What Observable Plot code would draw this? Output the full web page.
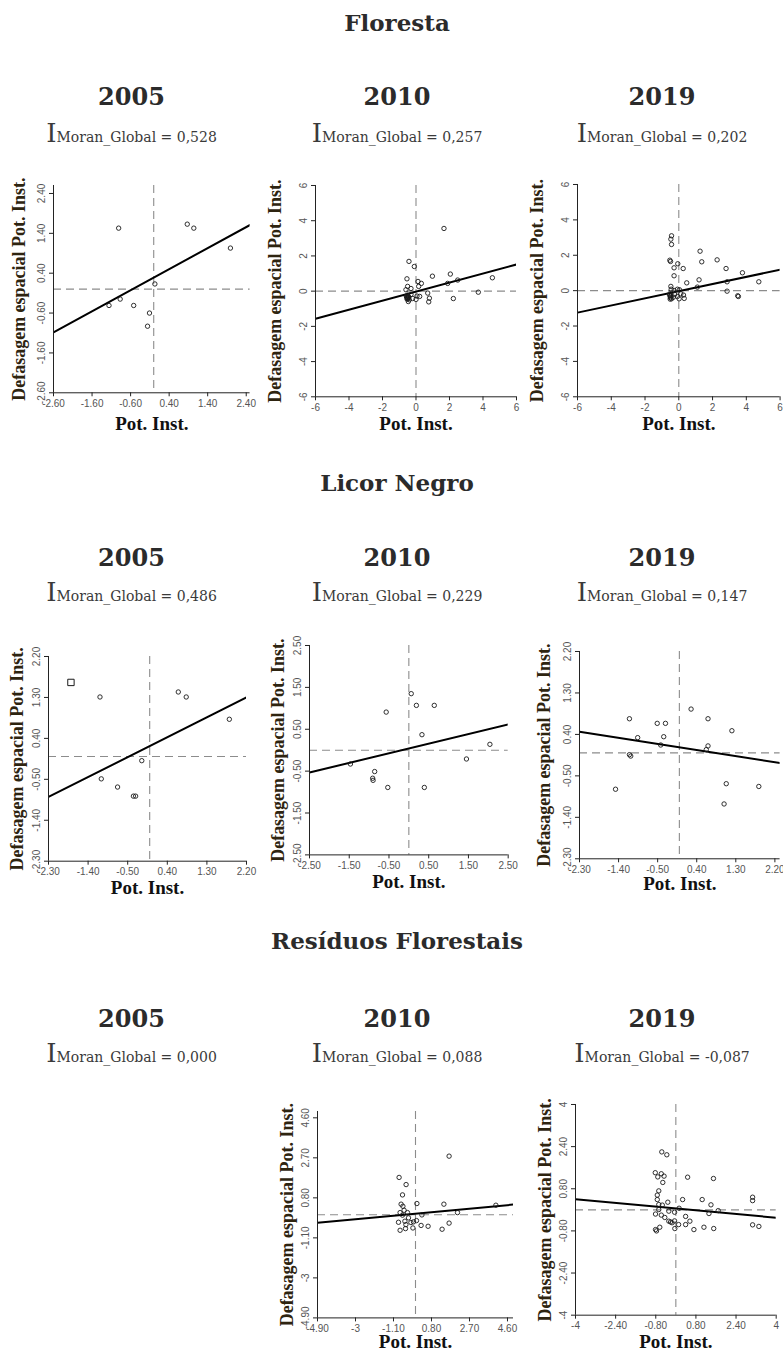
<!DOCTYPE html>
<html>
<head>
<meta charset="utf-8">
<script src="https://cdn.jsdelivr.net/npm/d3@7"></script>
<script src="https://cdn.jsdelivr.net/npm/@observablehq/plot@0.6"></script>
<style>
  html, body { margin: 0; padding: 0; background: #fff; overflow: hidden; }
  #root { position: relative; width: 783px; height: 1353px; overflow: hidden; background: #fff; }
  .hd { position: absolute; transform: translate(-50%, -50%); white-space: nowrap; font-family: "DejaVu Serif", serif; color: #2b2b2b; }
  .sec { font-size: 23px; font-weight: bold; }
  .yr { font-size: 24px; font-weight: bold; }
  .mo { color: #3a3a3a; font-weight: normal; }
  .mo .big { font-size: 26px; }
  .mo .small { font-size: 14px; }
  svg.panel { position: absolute; overflow: visible; }
</style>
</head>
<body>
<div id="root"></div>
<script>
// ---------- text ----------
const sections = ["Floresta", "Licor Negro", "Resíduos Florestais"];
const years = ["2005", "2010", "2019"];
const moranFloresta = ["0,528", "0,257", "0,202"];
const moranLicor = ["0,486", "0,229", "0,147"];
const moranResiduos = ["0,000", "0,088", "-0,087"];
const xTitle = "Pot. Inst.";
const yTitle = "Defasagem espacial Pot. Inst.";

// ---------- tick values / labels ----------
const ticksA = [-2.6, -1.6, -0.6, 0.4, 1.4, 2.4];
const labelsA = ["-2.60", "-1.60", "-0.60", "0.40", "1.40", "2.40"];
const ticksB = [-6, -4, -2, 0, 2, 4, 6];
const labelsB = ["-6", "-4", "-2", "0", "2", "4", "6"];
const ticksC = [-2.3, -1.4, -0.5, 0.4, 1.3, 2.2];
const labelsC = ["-2.30", "-1.40", "-0.50", "0.40", "1.30", "2.20"];
const ticksD = [-2.5, -1.5, -0.5, 0.5, 1.5, 2.5];
const labelsD = ["-2.50", "-1.50", "-0.50", "0.50", "1.50", "2.50"];
const ticksE = [-4.9, -3, -1.1, 0.8, 2.7, 4.6];
const labelsE = ["-4.90", "-3", "-1.10", "0.80", "2.70", "4.60"];
const ticksF = [-4, -2.4, -0.8, 0.8, 2.4, 4];
const labelsF = ["-4", "-2.40", "-0.80", "0.80", "2.40", "4"];

// ---------- series ----------
const florestaX2005 = [-0.91, 0.87, 1.04, 1.99, 0.03, -1.16, -0.87, -0.52, -0.11, -0.16];
const florestaY2005 = [1.53, 1.63, 1.53, 1.03, 0.13, -0.41, -0.25, -0.41, -0.60, -0.93];
const florestaX2010 = [1.67, -0.42, -0.10, 0.98, 2.05, 1.89, 2.49, 4.56, 3.72, 2.23, 0.70, 0.80, 0.76, 0.22, 0.12, 0.32, 0.16, -0.54, -0.50, -0.30, -0.60, -0.50, -0.44, -0.54, -0.58, -0.40, -0.30, -0.20, 0.00, 0.06, -0.46, -0.52, -0.48, -0.56, -0.46, -0.50];
const florestaY2010 = [3.56, 1.69, 1.40, 0.85, 0.97, 0.44, 0.63, 0.76, -0.06, -0.42, -0.11, -0.40, -0.61, -0.30, 0.55, 0.44, 0.27, 0.70, 0.27, 0.15, 0.08, -0.23, -0.34, -0.44, -0.28, -0.49, -0.19, -0.42, -0.47, -0.28, -0.59, -0.36, -0.40, -0.32, -0.30, -0.45];
const florestaX2019 = [-0.43, -0.47, -0.43, 1.26, 2.27, 1.36, -0.53, -0.49, -0.06, -0.28, 0.26, 2.80, -0.28, 3.77, 4.74, 1.20, 0.47, 2.86, 1.10, 2.86, 3.49, 3.53, -0.47, -0.45, -0.08, 0.04, -0.28, -0.53, -0.49, -0.43, -0.32, -0.08, 0.02, 0.28, 0.32, -0.51, -0.55, -0.24, 0.12, -0.50, -0.46];
const florestaY2019 = [3.10, 2.91, 2.61, 2.23, 1.74, 1.63, 1.72, 1.65, 1.52, 1.29, 1.25, 1.25, 0.84, 1.01, 0.50, 0.61, 0.44, 0.50, 0.20, -0.03, -0.29, -0.33, 0.24, 0.08, 0.08, 0.05, 0.01, -0.18, -0.33, -0.46, -0.37, -0.33, -0.46, -0.25, -0.44, -0.48, -0.25, -0.22, -0.18, -0.40, -0.28];

const licorX2005 = [-1.13, 0.65, 0.83, 1.81, -0.18, -1.10, -0.73, -0.37, -0.32];
const licorY2005 = [1.31, 1.42, 1.31, 0.82, -0.09, -0.49, -0.67, -0.87, -0.87];
const licorOutlierX2005 = [-1.79];
const licorOutlierY2005 = [1.63];
const licorX2010 = [0.06, 0.19, 0.64, -0.57, 0.33, 2.04, 1.45, -1.47, -0.86, -0.91, -0.90, -0.53, 0.39];
const licorY2010 = [1.35, 1.07, 1.07, 0.91, 0.37, 0.14, -0.21, -0.33, -0.51, -0.67, -0.72, -0.89, -0.89];
const licorX2019 = [0.27, -1.15, 0.66, -0.51, -0.32, 1.21, -0.96, -0.36, -0.43, 0.66, 0.62, -1.15, -1.12, -1.47, 1.08, 1.83, 1.03];
const licorY2019 = [0.95, 0.74, 0.74, 0.64, 0.64, 0.48, 0.33, 0.35, 0.17, 0.15, 0.07, -0.04, -0.07, -0.79, -0.67, -0.73, -1.11];

const residuosX2010 = [1.68, -0.82, -0.47, -0.65, -0.72, -0.63, 0.07, 1.42, 4.02, 2.10, 0.32, -0.40, -0.35, -0.77, -0.85, -0.53, -0.48, -0.50, -0.77, -0.10, 0.05, -0.13, 0.28, 0.63, 1.33, 1.68, -0.65, -0.57, -0.23];
const residuosY2010 = [2.78, 1.77, 1.43, 0.94, 0.50, 0.40, 0.53, 0.50, 0.45, 0.10, -0.01, 0.10, -0.15, 0.10, -0.36, -0.31, -0.47, -0.66, -0.74, -0.34, -0.28, -0.63, -0.51, -0.55, -0.69, -0.40, -0.02, 0.21, -0.37];
const residuosX2019 = [-0.56, -0.36, -0.82, -0.58, -0.72, -0.47, 0.47, 1.50, -0.52, -0.68, 0.27, 1.05, 3.06, 3.06, 1.40, -0.74, -0.32, -0.68, -0.54, 0.13, 1.69, -0.28, -0.05, -0.81, -0.58, -0.44, 1.32, 0.39, 0.56, -0.21, -0.05, 0.11, 0.39, -0.64, 1.12, 1.51, 0.72, -0.04, -0.81, -0.77, 3.06, 3.31, -0.15, -0.28, -0.68, -0.74];
const residuosY2019 = [2.20, 2.09, 1.41, 1.37, 1.25, 1.28, 1.24, 1.19, 1.04, 0.72, 0.39, 0.39, 0.48, 0.35, 0.19, 0.39, 0.29, 0.20, 0.18, 0.06, -0.03, -0.05, -0.09, -0.16, -0.20, -0.29, -0.14, -0.25, -0.43, -0.46, -0.42, -0.56, -0.56, -0.66, -0.66, -0.71, -0.75, -0.71, -0.75, -0.80, -0.57, -0.63, -0.49, -0.43, 0.01, 0.56];

// regression (slope, intercept) per panel
const slopes = { f2005: 0.528, f2010: 0.257, f2019: 0.202, l2005: 0.486, l2010: 0.229, l2019: -0.147, r2010: 0.088, r2019: -0.087 };
const intercepts = { f2005: 0.29, f2010: -0.03, f2019: -0.03, l2005: 0.23, l2010: 0.04, l2019: 0.12, r2010: 0.05, r2019: 0.05 };

// ---------- layout ----------
const root = document.getElementById("root");
function addText(cls, html, cx, cy) {
  const d = document.createElement("div");
  d.className = "hd " + cls;
  d.innerHTML = html;
  d.style.left = cx + "px";
  d.style.top = cy + "px";
  root.appendChild(d);
}
const colX = [131.5, 397, 662];
const rows = [
  { title: sections[0], tY: 22, yY: 96, mY: 133, moran: moranFloresta },
  { title: sections[1], tY: 482, yY: 557, mY: 592, moran: moranLicor },
  { title: sections[2], tY: 940, yY: 1018, mY: 1053, moran: moranResiduos }
];
rows.forEach(r => {
  addText("sec", r.title, 397, r.tY);
  years.forEach((y, i) => {
    addText("yr", y, colX[i], r.yY);
    addText("mo", `<span class="big">I</span><span class="small">Moran_Global = ${r.moran[i]}</span>`, colX[i], r.mY);
  });
});

function panel(p) {
  const mL = 50, mR = 4, mT = 10, mB = 45;
  const [x0, x1] = p.xDomain, [y0, y1] = p.yDomain;
  const w = p.box.right - p.box.left + mL + mR;
  const h = p.box.bottom - p.box.top + mT + mB;
  const pts = p.xs.map((x, i) => ({ x, y: p.ys[i] }));
  const reg = [x0, x1].map(x => ({ x, y: p.intercept + p.slope * x }));
  const xl = new Map(p.xTicks.map((t, i) => [t, p.xLabels[i]]));
  const yl = new Map(p.yTicks.map((t, i) => [t, p.yLabels[i]]));
  const marks = [
    Plot.ruleX([0], { stroke: "#8c8c8c", strokeWidth: 1.1, strokeDasharray: "8,5" }),
    Plot.ruleY([0], { stroke: "#8c8c8c", strokeWidth: 1.1, strokeDasharray: "8,5" }),
    Plot.line(reg, { x: "x", y: "y", stroke: "#000", strokeWidth: 2, clip: true }),
    Plot.dot(pts, { x: "x", y: "y", r: 2.2, stroke: "#1a1a1a", strokeWidth: 0.9, fill: "none" }),
    Plot.ruleX([x0], { stroke: "#222", strokeWidth: 1 }),
    Plot.ruleY([y0], { stroke: "#222", strokeWidth: 1 }),
    Plot.axisX({ ticks: p.xTicks, tickFormat: d => xl.get(d), tickSize: 4, tickPadding: 3, stroke: "#222", fill: "#555", fontSize: 10, label: null }),
    Plot.axisY({ ticks: p.yTicks, tickFormat: d => yl.get(d), tickSize: 4, tickRotate: -90, stroke: "#222", fill: "#555", fontSize: 10, label: null }),
    Plot.text([xTitle], { text: d => d, frameAnchor: "bottom", textAnchor: "middle", dy: p.xdy, fontSize: 19, fontWeight: "bold", fontFamily: "Liberation Serif", fill: "#111" }),
    Plot.text([yTitle], { text: d => d, frameAnchor: "left", textAnchor: "middle", dx: p.ydx, rotate: -90, fontSize: 18, fontWeight: "bold", fontFamily: "Liberation Serif", fill: "#2e2410" })
  ];
  if (p.sq) {
    const sq = p.sq.x.map((x, i) => ({ x, y: p.sq.y[i] }));
    marks.push(Plot.dot(sq, { x: "x", y: "y", symbol: "square", r: 3.6, stroke: "#1a1a1a", strokeWidth: 1, fill: "none" }));
  }
  const svg = Plot.plot({
    width: w, height: h,
    marginLeft: mL, marginRight: mR, marginTop: mT, marginBottom: mB,
    x: { domain: p.xDomain },
    y: { domain: p.yDomain },
    style: { fontFamily: "Liberation Sans, Arial, sans-serif", fontSize: "10px", background: "transparent", overflow: "visible" },
    marks
  });
  svg.classList.add("panel");
  svg.style.left = (p.box.left - mL) + "px";
  svg.style.top = (p.box.top - mT) + "px";
  root.appendChild(svg);
}

const panels = [
  { xs: florestaX2005, ys: florestaY2005, slope: slopes.f2005, intercept: intercepts.f2005, xDomain: [-2.6, 2.5], yDomain: [-2.6, 2.6], xTicks: ticksA, xLabels: labelsA, yTicks: ticksA, yLabels: labelsA, box: { left: 52.7, right: 249.3, top: 185, bottom: 392.3 }, xdy: 37, ydx: -34 },
  { xs: florestaX2010, ys: florestaY2010, slope: slopes.f2010, intercept: intercepts.f2010, xDomain: [-6, 6], yDomain: [-6, 6], xTicks: ticksB, xLabels: labelsB, yTicks: ticksB, yLabels: labelsB, box: { left: 315, right: 516, top: 184.7, bottom: 396 }, xdy: 33, ydx: -40 },
  { xs: florestaX2019, ys: florestaY2019, slope: slopes.f2019, intercept: intercepts.f2019, xDomain: [-6, 6], yDomain: [-6, 6], xTicks: ticksB, xLabels: labelsB, yTicks: ticksB, yLabels: labelsB, box: { left: 576.7, right: 779.3, top: 184, bottom: 396.3 }, xdy: 33, ydx: -40 },
  { xs: licorX2005, ys: licorY2005, sq: { x: licorOutlierX2005, y: licorOutlierY2005 }, slope: slopes.l2005, intercept: intercepts.l2005, xDomain: [-2.3, 2.2], yDomain: [-2.3, 2.2], xTicks: ticksC, xLabels: labelsC, yTicks: ticksC, yLabels: labelsC, box: { left: 47.7, right: 245.7, top: 656, bottom: 860.7 }, xdy: 33, ydx: -31 },
  { xs: licorX2010, ys: licorY2010, slope: slopes.l2010, intercept: intercepts.l2010, xDomain: [-2.5, 2.5], yDomain: [-2.5, 2.5], xTicks: ticksD, xLabels: labelsD, yTicks: ticksD, yLabels: labelsD, box: { left: 309, right: 507.7, top: 645.3, bottom: 854.7 }, xdy: 33, ydx: -31 },
  { xs: licorX2019, ys: licorY2019, slope: slopes.l2019, intercept: intercepts.l2019, xDomain: [-2.3, 2.32], yDomain: [-2.3, 2.2], xTicks: ticksC, xLabels: labelsC, yTicks: ticksC, yLabels: labelsC, box: { left: 578.7, right: 779.3, top: 651, bottom: 858.3 }, xdy: 31, ydx: -35 },
  { xs: residuosX2010, ys: residuosY2010, slope: slopes.r2010, intercept: intercepts.r2010, xDomain: [-4.9, 4.9], yDomain: [-4.9, 4.9], xTicks: ticksE, xLabels: labelsE, yTicks: ticksE, yLabels: labelsE, box: { left: 316.7, right: 512.7, top: 1111.3, bottom: 1317.7 }, xdy: 30.5, ydx: -30 },
  { xs: residuosX2019, ys: residuosY2019, slope: slopes.r2019, intercept: intercepts.r2019, xDomain: [-4, 4], yDomain: [-4, 4], xTicks: ticksF, xLabels: labelsF, yTicks: ticksF, yLabels: labelsF, box: { left: 575, right: 775.7, top: 1104.3, bottom: 1315 }, xdy: 33, ydx: -30 }
];
panels.forEach(panel);
</script>
</body>
</html>
